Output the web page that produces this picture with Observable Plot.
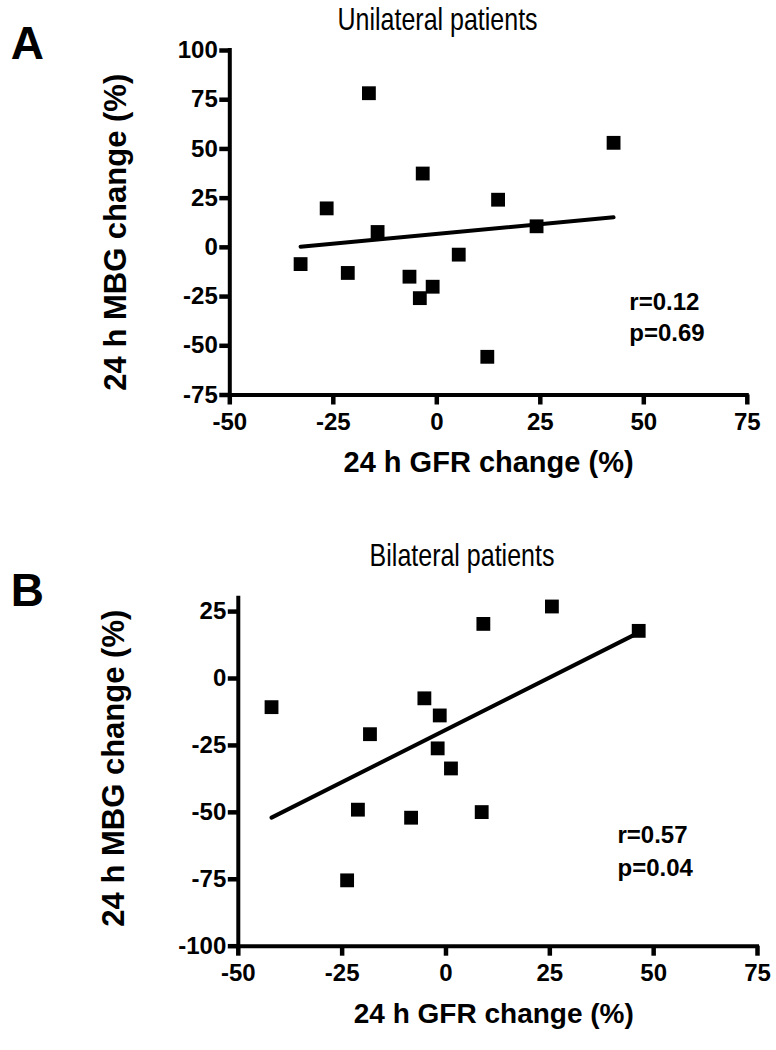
<!DOCTYPE html>
<html>
<head>
<meta charset="utf-8">
<script src="https://cdn.jsdelivr.net/npm/d3@7"></script>
<script src="https://cdn.jsdelivr.net/npm/@observablehq/plot@0.6"></script>
<style>
  html, body { margin: 0; padding: 0; background: #fff; }
  #wrap { position: relative; width: 776px; height: 1050px; overflow: hidden; }
  #wrap svg { position: absolute; left: 0; display: block; }
</style>
</head>
<body>
<div id="wrap"></div>
<script>
// ---- Panel A: Unilateral patients ----
const gfrA = [-32.9, -26.6, -21.5, -16.4, -14.3, -6.6, -4.1, -3.4, -1.0, 5.3, 12.2, 14.8, 24.1, 42.7];
const mbgA = [-8.5, 19.8, -13.0, 78.3, 7.8, -14.9, -25.8, 37.5, -20.0, -3.7, -55.6, 24.2, 10.7, 53.1];
const xTicksA = [-50, -25, 0, 25, 50, 75];
const yTicksA = [-75, -50, -25, 0, 25, 50, 75, 100];
const xDomainA = [-50, 75];
const yDomainA = [-75, 100];
const titleA = "Unilateral patients";
const letterA = "A";
const statsA = "r=0.12\np=0.69";

// ---- Panel B: Bilateral patients ----
const gfrB = [-42.0, -18.3, -21.2, -23.8, -8.4, -5.2, -1.5, -2.0, 1.2, 8.6, 9.0, 25.5, 46.4];
const mbgB = [-10.7, -20.8, -49.0, -75.4, -52.0, -7.4, -13.8, -26.1, -33.6, -49.9, 20.4, 26.9, 17.8];
const xTicksB = [-50, -25, 0, 25, 50, 75];
const yTicksB = [-100, -75, -50, -25, 0, 25];
const xDomainB = [-50, 75];
const yDomainB = [-100, 30];
const titleB = "Bilateral patients";
const letterB = "B";
const statsB = "r=0.57\np=0.04";

const xLabel = "24 h GFR change (%)";
const yLabel = "24 h MBG change (%)";

const FONT = "'Liberation Sans', Arial, Helvetica, sans-serif";
const fmt = d => String(d);

function panel(cfg) {
  const pts = cfg.gfr.map((g, i) => ({gfr: g, mbg: cfg.mbg[i]}));
  const [x0, x1] = cfg.xDomain;
  const [y0, y1] = cfg.yDomain;
  return Plot.plot({
    width: 776,
    height: cfg.height,
    marginTop: cfg.mt, marginRight: cfg.mr, marginBottom: cfg.mb, marginLeft: cfg.ml,
    x: {domain: cfg.xDomain},
    y: {domain: cfg.yDomain},
    style: {fontFamily: FONT, color: "#000", background: "transparent", overflow: "visible"},
    marks: [
      Plot.axisX(cfg.xTicks, {tickSize: 10, tickPadding: 8, fontSize: 24, fontWeight: "bold",
        strokeWidth: 4.5, tickFormat: fmt, label: null}),
      Plot.axisY(cfg.yTicks, {tickSize: 10, tickPadding: 2, fontSize: 24, fontWeight: "bold",
        strokeWidth: 4.5, tickFormat: fmt, label: null}),
      Plot.ruleX([x0], {y1: y0, y2: y1, stroke: "#000", strokeWidth: 4, strokeLinecap: "square"}),
      Plot.ruleY([y0], {x1: x0, x2: x1, stroke: "#000", strokeWidth: 4, strokeLinecap: "square"}),
      Plot.linearRegressionY(pts, {x: "gfr", y: "mbg", ci: 0, stroke: "#000", strokeWidth: 4, strokeLinecap: "round"}),
      Plot.dot(pts, {x: "gfr", y: "mbg", symbol: "square", r: 7.8, fill: "#000", stroke: "none"}),
      // title
      Plot.text([cfg.title], {text: d => d, frameAnchor: "top", lineAnchor: "bottom", textAnchor: "middle",
        dx: cfg.titleDx, dy: cfg.titleDy, fontSize: 25, fontWeight: "normal"}),
      // panel letter
      Plot.text([cfg.letter], {text: d => d, frameAnchor: "top-left", lineAnchor: "bottom", textAnchor: "start",
        dx: cfg.letterDx, dy: cfg.letterDy, fontSize: 46, fontWeight: "bold"}),
      // x label
      Plot.text([xLabel], {text: d => d, frameAnchor: "bottom", lineAnchor: "bottom", textAnchor: "middle",
        dx: cfg.xlDx, dy: cfg.xlDy, fontSize: cfg.xlSize, fontWeight: "bold"}),
      // y label
      Plot.text([yLabel], {text: d => d, frameAnchor: "left", lineAnchor: "bottom", textAnchor: "middle",
        rotate: -90, dx: cfg.ylDx, dy: cfg.ylDy, fontSize: 31, fontWeight: "bold"}),
      // stats
      Plot.text([cfg.stats], {text: d => d, frameAnchor: "bottom-left", lineAnchor: "bottom", textAnchor: "start",
        dx: cfg.stDx, dy: cfg.stDy, fontSize: 24, fontWeight: "bold", lineHeight: cfg.stLh})
    ]
  });
}

// the source figure's title text is slightly stretched vertically
function stretchText(svg, content, sy) {
  svg.querySelectorAll("text").forEach(el => {
    if (el.textContent !== content) return;
    const t = el.getAttribute("transform");
    if (t) {
      el.setAttribute("transform", t + ` scale(1,${sy})`);
    } else {
      const x = +el.getAttribute("x") || 0, y = +el.getAttribute("y") || 0;
      el.setAttribute("transform", `translate(${x},${y}) scale(1,${sy}) translate(${-x},${-y})`);
    }
  });
}

const wrap = document.getElementById("wrap");

const svgA = panel({
  gfr: gfrA, mbg: mbgA, xDomain: xDomainA, yDomain: yDomainA, xTicks: xTicksA, yTicks: yTicksA,
  title: titleA, letter: letterA, stats: statsA,
  height: 490, mt: 50, mr: 29.2, mb: 95.5, ml: 229.3,
  titleDx: -51, titleDy: -20.7,
  letterDx: -219.1, letterDy: 8.3,
  xlDx: 0, xlDy: 77, xlSize: 29,
  ylDx: -104.3, ylDy: 9.5,
  stDx: 399.5, stDy: -54.5, stLh: 1.29
});
svgA.style.top = "0px";
stretchText(svgA, titleA, 1.22);
wrap.appendChild(svgA);

const svgB = panel({
  gfr: gfrB, mbg: mbgB, xDomain: xDomainB, yDomain: yDomainB, xTicks: xTicksB, yTicks: yTicksB,
  title: titleB, letter: letterB, stats: statsB,
  height: 560, mt: 107.7, mr: 19, mb: 104.3, ml: 237.8,
  titleDx: -35.9, titleDy: -32.7,
  letterDx: -227.6, letterDy: 7.3,
  xlDx: -4.1, xlDy: 76.6, xlSize: 28,
  ylDx: -114.5, ylDy: -4,
  stDx: 379.2, stDy: -70.7, stLh: 1.35
});
svgB.style.top = "490px";
stretchText(svgB, titleB, 1.22);
wrap.appendChild(svgB);
</script>
</body>
</html>
